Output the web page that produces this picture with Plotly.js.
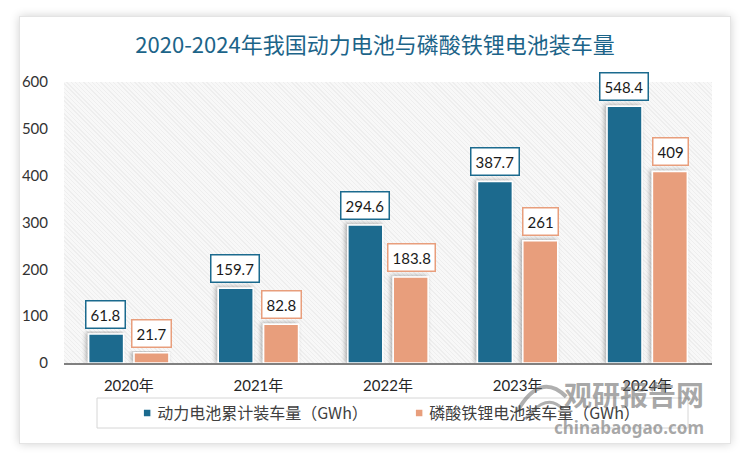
<!DOCTYPE html>
<html>
<head>
<meta charset="utf-8">
<script src="https://cdn.plot.ly/plotly-3.0.1.min.js"></script>
<style>
  html, body { margin:0; padding:0; background:#ffffff; width:750px; height:459px; overflow:hidden; }
  #card { position:absolute; left:19px; top:16px; width:710px; height:426px; background:#ffffff;
          border:1px solid #e4e4e4; box-shadow:0 0 9px rgba(0,0,0,0.18); }
  #hatch { position:absolute; left:64px; top:82px; width:648px; height:281px;
           background: repeating-linear-gradient(45deg, #f8f8f8 0px, #f8f8f8 2px, #eeeeee 2px, #eeeeee 3px); }
  #chart { position:absolute; left:0; top:0; width:750px; height:459px; }
</style>
</head>
<body>
<div id="card"></div>
<div id="hatch"></div>
<div id="chart"></div>
<script>
const years = ['2020年', '2021年', '2022年', '2023年', '2024年'];
const powerBattery = [61.8, 159.7, 294.6, 387.7, 548.4];
const lfpBattery = [21.7, 82.8, 183.8, 261, 409];
const seriesNames = ['动力电池累计装车量（GWh）', '磷酸铁锂电池装车量（GWh）'];
const yTicks = [0, 100, 200, 300, 400, 500, 600];

const BLUE = '#1b6a8e';
const ORANGE = '#e89e7c';
const numFont = 'Lato, "Noto Sans CJK SC", sans-serif';

const traces = [
  { type:'bar', name:seriesNames[0], x:years, y:powerBattery,
    marker:{ color:BLUE, line:{ color:'#ffffff', width:1.5 } }, hoverinfo:'skip' },
  { type:'bar', name:seriesNames[1], x:years, y:lfpBattery,
    marker:{ color:ORANGE, line:{ color:'#ffffff', width:1.5 } }, hoverinfo:'skip' }
];

const annotations = [];
years.forEach((yr, i) => {
  annotations.push({ x:yr, y:powerBattery[i], xref:'x', yref:'y', text:String(powerBattery[i]),
    showarrow:false, yanchor:'bottom', xshift:-23, yshift:5,
    font:{ family:numFont, size:15, color:'#1a1a1a' },
    bgcolor:'#ffffff', bordercolor:BLUE, borderwidth:1.5, borderpad:4 });
  annotations.push({ x:yr, y:lfpBattery[i], xref:'x', yref:'y', text:String(lfpBattery[i]),
    showarrow:false, yanchor:'bottom', xshift:23, yshift:5,
    font:{ family:numFont, size:15, color:'#1a1a1a' },
    bgcolor:'#ffffff', bordercolor:ORANGE, borderwidth:1.5, borderpad:4 });
});
// watermark
annotations.push({ xref:'paper', yref:'paper', x:0.99, y:-0.112, xanchor:'right', yanchor:'middle',
  text:'<b>观研报告网</b>', showarrow:false,
  font:{ family:'"Noto Sans CJK SC", sans-serif', size:28, color:'rgba(110,110,110,0.6)' } });
annotations.push({ xref:'paper', yref:'paper', x:0.99, y:-0.23, xanchor:'right', yanchor:'middle',
  text:'<b>chinabaogao.com</b>', showarrow:false,
  font:{ family:'"Noto Sans", sans-serif', size:17, color:'rgba(110,110,110,0.6)' } });

const layout = {
  width:750, height:459,
  margin:{ l:64, r:38, t:82, b:96 },
  paper_bgcolor:'rgba(0,0,0,0)', plot_bgcolor:'rgba(0,0,0,0)',
  title:{ text:'2020-2024年我国动力电池与磷酸铁锂电池装车量', x:0.5, xref:'container', xanchor:'center',
          y:1 - 45/459, yref:'container', yanchor:'middle',
          font:{ family:'"Noto Sans CJK SC", sans-serif', size:22, color:'#1c6489' } },
  barmode:'group', bargap:0.3, bargroupgap:0.23,
  xaxis:{ type:'category', showline:true, linecolor:'#808080', linewidth:1.5, ticks:'outside',
          ticklen:8, tickcolor:'rgba(0,0,0,0)', showgrid:false, zeroline:false, fixedrange:true,
          tickfont:{ family:numFont, size:15, color:'#262626' } },
  yaxis:{ range:[0, 600], tickvals:yTicks, showgrid:false, zeroline:false, showline:false,
          ticks:'outside', ticklen:12, tickcolor:'rgba(0,0,0,0)', fixedrange:true,
          tickfont:{ family:numFont, size:15, color:'#333333' } },
  showlegend:true,
  legend:{ orientation:'h', x:0.082, xanchor:'left', y:-0.178, yanchor:'middle',
           entrywidth:227, entrywidthmode:'pixels', bgcolor:'rgba(0,0,0,0)', borderwidth:0,
           font:{ family:'"Noto Sans CJK SC", sans-serif', size:16, color:'#404040' } },
  shapes:[
    { type:'rect', xref:'paper', yref:'paper', x0:(97-64)/648, x1:(688-64)/648,
      y0:(363-428)/281, y1:(363-398)/281, line:{ color:'#d6d6d6', width:1 }, fillcolor:'rgba(0,0,0,0)', layer:'below' },
    // watermark logo arcs
    { type:'path', xref:'paper', yref:'paper',
      path:'M 0.70 -0.17 Q 0.735 -0.03 0.775 -0.12', line:{ color:'rgba(110,110,110,0.55)', width:4 } },
    { type:'path', xref:'paper', yref:'paper',
      path:'M 0.712 -0.20 Q 0.745 -0.10 0.77 -0.165', line:{ color:'rgba(110,110,110,0.55)', width:3 } }
  ],
  annotations:annotations
};

Plotly.newPlot('chart', traces, layout, { displayModeBar:false, staticPlot:true }).then(gd => {
  const svg = gd.querySelector('svg.main-svg');
  const ns = 'http://www.w3.org/2000/svg';
  let defs = svg.querySelector('defs');
  if (!defs) { defs = document.createElementNS(ns, 'defs'); svg.insertBefore(defs, svg.firstChild); }
  const f = document.createElementNS(ns, 'filter');
  f.setAttribute('id', 'barShadow');
  f.setAttribute('x', '-30%'); f.setAttribute('y', '-10%'); f.setAttribute('width', '160%'); f.setAttribute('height', '130%');
  const ds = document.createElementNS(ns, 'feDropShadow');
  ds.setAttribute('dx', '-2'); ds.setAttribute('dy', '-1'); ds.setAttribute('stdDeviation', '2');
  ds.setAttribute('flood-color', '#000'); ds.setAttribute('flood-opacity', '0.3');
  f.appendChild(ds); defs.appendChild(f);
  gd.querySelectorAll('.trace.bars .point path').forEach(p => p.setAttribute('filter', 'url(#barShadow)'));
  gd.querySelectorAll('.legendpoints path').forEach(p => p.setAttribute('d', 'M14,4H6V-4H14Z'));
});
</script>
</body>
</html>
